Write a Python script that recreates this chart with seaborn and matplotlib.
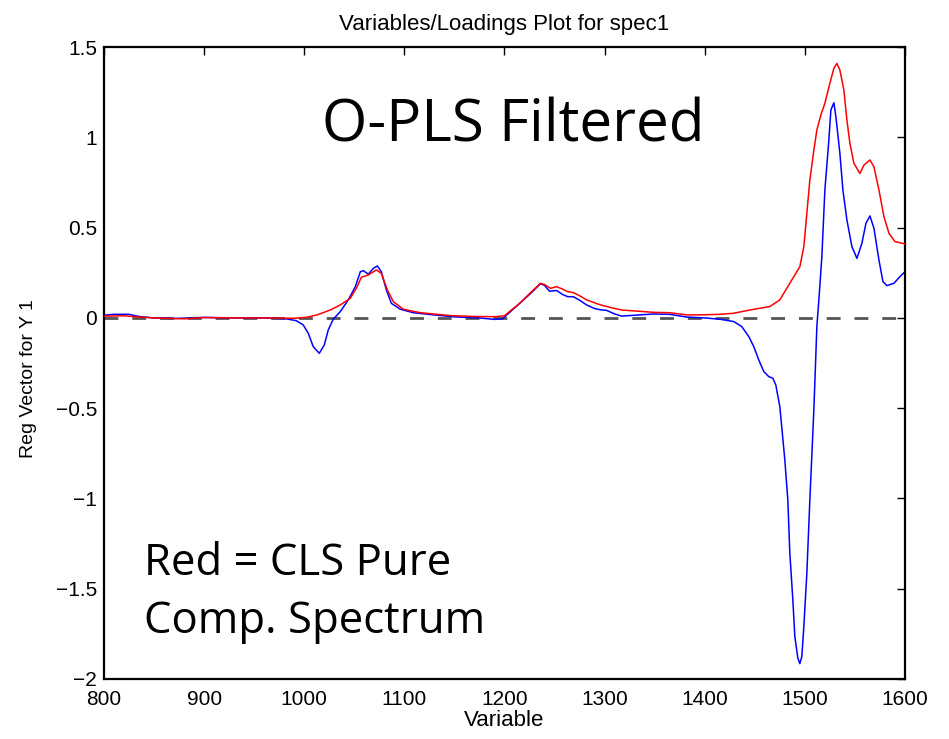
import matplotlib
matplotlib.use("Agg")
import matplotlib.pyplot as plt
import seaborn as sns
import pandas as pd

title = "Variables/Loadings Plot for spec1"
xlabel = "Variable"
ylabel = "Reg Vector for Y 1"
x_ticks = [800, 900, 1000, 1100, 1200, 1300, 1400, 1500, 1600]
y_ticks = [-2, -1.5, -1, -0.5, 0, 0.5, 1, 1.5]
y_tick_labels = ["\u22122", "\u22121.5", "\u22121", "\u22120.5", "0", "0.5", "1", "1.5"]

blue_x = [800, 810, 825, 835, 850, 870, 900, 930, 960, 982, 992, 999, 1004, 1009, 1015,
          1020, 1024, 1029, 1036, 1044, 1051, 1056, 1059, 1064, 1069, 1073, 1077, 1082,
          1087, 1096, 1109, 1129, 1150, 1175, 1190, 1198, 1206, 1215, 1226, 1236, 1240,
          1245, 1252, 1258, 1263, 1269, 1276, 1282, 1290, 1296, 1302, 1310, 1317, 1330,
          1349, 1365, 1382, 1400, 1415, 1429, 1437, 1444, 1449, 1454, 1459, 1464, 1468,
          1471, 1475, 1480, 1483, 1485, 1488, 1490, 1493, 1495, 1497, 1499, 1502, 1505,
          1509, 1512, 1514, 1517, 1520, 1524, 1526, 1529, 1531, 1535, 1538, 1542, 1547,
          1552, 1557, 1561, 1565, 1569, 1574, 1578, 1582, 1589, 1595, 1600]
blue_y = [0.015, 0.02, 0.02, 0.008, 0.0, -0.003, 0.003, 0.0, 0.0, -0.005, -0.015, -0.039,
          -0.085, -0.159, -0.196, -0.15, -0.066, -0.007, 0.035, 0.1, 0.173, 0.256, 0.262,
          0.242, 0.275, 0.288, 0.256, 0.155, 0.081, 0.048, 0.029, 0.017, 0.006, 0.0,
          -0.008, -0.005, 0.035, 0.08, 0.135, 0.19, 0.18, 0.148, 0.152, 0.13, 0.118, 0.117,
          0.095, 0.072, 0.052, 0.045, 0.042, 0.022, 0.01, 0.015, 0.022, 0.02, 0.005, 0.0,
          -0.007, -0.02, -0.048, -0.103, -0.159, -0.233, -0.297, -0.325, -0.334, -0.371,
          -0.491, -0.786, -1.008, -1.303, -1.561, -1.765, -1.884, -1.915, -1.875, -1.709,
          -1.414, -1.008, -0.509, -0.048, 0.1, 0.34, 0.709, 0.986, 1.152, 1.192, 1.115,
          0.912, 0.709, 0.543, 0.395, 0.33, 0.414, 0.524, 0.565, 0.497, 0.321, 0.201,
          0.179, 0.192, 0.229, 0.256]

red_x = [800, 820, 835, 850, 880, 900, 930, 960, 990, 1003, 1013, 1026, 1036, 1046, 1052,
         1057, 1064, 1072, 1077, 1083, 1089, 1099, 1116, 1146, 1170, 1192, 1200, 1206,
         1215, 1226, 1236, 1240, 1246, 1252, 1258, 1263, 1269, 1276, 1282, 1296, 1305,
         1317, 1349, 1365, 1382, 1395, 1415, 1429, 1445, 1465, 1475, 1485, 1495, 1499,
         1502, 1505, 1509, 1512, 1516, 1520, 1525, 1529, 1532, 1535, 1539, 1542, 1545,
         1549, 1555, 1559, 1565, 1569, 1574, 1579, 1584, 1590, 1600]
red_y = [0.01, 0.012, 0.005, 0.0, -0.005, 0.002, 0.0, 0.0, -0.002, 0.004, 0.017, 0.044,
         0.072, 0.109, 0.164, 0.225, 0.238, 0.266, 0.247, 0.155, 0.09, 0.048, 0.029,
         0.013, 0.008, 0.007, 0.012, 0.04, 0.08, 0.14, 0.192, 0.185, 0.164, 0.173, 0.16,
         0.146, 0.14, 0.12, 0.1, 0.072, 0.059, 0.044, 0.031, 0.029, 0.017, 0.017, 0.02,
         0.026, 0.044, 0.063, 0.1, 0.192, 0.284, 0.395, 0.58, 0.764, 0.93, 1.041, 1.124,
         1.189, 1.30, 1.383, 1.41, 1.373, 1.262, 1.096, 0.967, 0.857, 0.80, 0.847, 0.875,
         0.838, 0.709, 0.561, 0.469, 0.423, 0.41]

df_blue = pd.DataFrame({"x": blue_x, "y": blue_y})
df_red = pd.DataFrame({"x": red_x, "y": red_y})

sns.set_style("white")
plt.rcParams["font.family"] = ["Liberation Sans", "DejaVu Sans"]
plt.rcParams["text.color"] = "black"
plt.rcParams["axes.labelcolor"] = "black"
plt.rcParams["xtick.color"] = "black"
plt.rcParams["ytick.color"] = "black"

fig = plt.figure(figsize=(9.49, 7.39), dpi=100)
ax = fig.add_axes([0.1096, 0.0812, 0.844, 0.855])

ax.axhline(0, color="#555555", linestyle=(0, (5, 5)), linewidth=2, zorder=1)
sns.lineplot(data=df_red, x="x", y="y", ax=ax, color="#ff0000", linewidth=1.1,
             estimator=None, sort=False, zorder=3)
sns.lineplot(data=df_blue, x="x", y="y", ax=ax, color="#0000ff", linewidth=1.1,
             estimator=None, sort=False, zorder=2)

ax.set_xlim(800, 1600)
ax.set_ylim(-2, 1.5)
ax.set_xticks(x_ticks)
ax.set_yticks(y_ticks)
ax.set_yticklabels(y_tick_labels)
ax.tick_params(direction="in", length=6, width=1, labelsize=15, top=True, right=True,
               colors="black")
ax.tick_params(axis="x", pad=8)
ax.tick_params(axis="y", pad=5)
for s in ax.spines.values():
    s.set_color("black")
    s.set_linewidth(1.6)
ax.set_xlabel(xlabel, fontsize=16, labelpad=1)
ax.set_ylabel(ylabel, fontsize=14)
ax.yaxis.set_label_coords(-0.084, 0.476)
ax.set_title(title, fontsize=16, pad=12)

big_font = ["Open Sans", "DejaVu Sans"]
ax.text(1018, 0.98, "O-PLS Filtered", fontsize=42, ha="left", va="baseline",
        family=big_font, color="black")
ax.text(840, -1.423, "Red = CLS Pure", fontsize=31.5, ha="left", va="baseline",
        family=big_font, color="black")
ax.text(840, -1.744, "Comp. Spectrum", fontsize=31.5, ha="left", va="baseline",
        family=big_font, color="black")

fig.savefig("out.png", dpi=100, facecolor="white")
